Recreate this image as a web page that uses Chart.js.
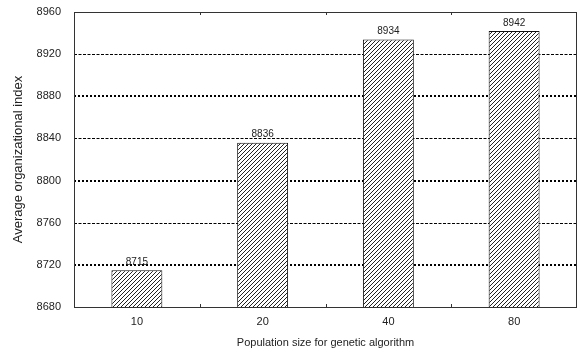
<!DOCTYPE html>
<html>
<head>
<meta charset="utf-8">
<script src="https://cdn.jsdelivr.net/npm/chart.js@4"></script>
<style>
  html, body { margin: 0; padding: 0; background: #fff; }
  #wrap { width: 579px; height: 351px; }
</style>
</head>
<body>
<div id="wrap"><canvas id="c" width="579" height="351"></canvas></div>
<script>
const sizes = ['10', '20', '40', '80']
const avgIndex = [8715, 8836, 8934, 8942]
const yMin = 8680
const yMax = 8960
const yStep = 40

const fnt = 'Liberation Sans, Arial, sans-serif'

// diagonal hatch fill for the bars
const hatch = (() => {
    const t = document.createElement('canvas')
    t.width = 4
    t.height = 4
    const g = t.getContext('2d')
    g.fillStyle = '#fff'
    g.fillRect(0, 0, 4, 4)
    g.strokeStyle = '#222'
    g.lineWidth = 1
    g.beginPath()
    g.moveTo(-1, 5); g.lineTo(5, -1)
    g.moveTo(-1, 1); g.lineTo(1, -1)
    g.moveTo(3, 5); g.lineTo(5, 3)
    g.stroke()
    return g.createPattern(t, 'repeat')
})()

// dashed y grid, alternating thin dashes and thick dots
const gridLines = {
    id: 'gridLines',
    beforeDatasetsDraw(chart) {
        const {ctx, chartArea: a, scales: {y}} = chart
        ctx.save()
        y.ticks.forEach(t => {
            if (t.value <= yMin || t.value >= yMax) return
            const py = Math.round(y.getPixelForValue(t.value))
            const thick = ((t.value - yMin) / yStep) % 2 == 1
            ctx.lineWidth = thick ? 2 : 1
            ctx.setLineDash(thick ? [2, 2] : [3, 1.5])
            ctx.strokeStyle = '#000'
            ctx.beginPath()
            ctx.moveTo(a.left, thick ? py : py + 0.5)
            ctx.lineTo(a.right, thick ? py : py + 0.5)
            ctx.stroke()
        })
        ctx.restore()
    },
    afterDatasetsDraw(chart) {
        const {ctx, chartArea: a, scales: {x}} = chart
        ctx.save()
        ctx.strokeStyle = '#333'
        ctx.lineWidth = 1
        ctx.setLineDash([])
        ctx.strokeRect(Math.round(a.left) + 0.5, Math.round(a.top) + 0.5, Math.round(a.right - a.left) - 1, Math.round(a.bottom - a.top))
        // little ticks between categories
        for (let i = 1; i < sizes.length; i++) {
            const px = Math.round((x.getPixelForValue(i - 1) + x.getPixelForValue(i)) / 2) + 0.5
            ctx.beginPath()
            ctx.moveTo(px, a.top); ctx.lineTo(px, a.top + 3)
            ctx.moveTo(px, a.bottom); ctx.lineTo(px, a.bottom - 3)
            ctx.stroke()
        }
        // value labels above bars
        ctx.fillStyle = '#222'
        ctx.font = '10px ' + fnt
        ctx.textAlign = 'center'
        ctx.textBaseline = 'bottom'
        chart.getDatasetMeta(0).data.forEach((b, i) => {
            ctx.fillText(avgIndex[i], b.x, b.y - 3)
        })
        ctx.restore()
    }
}

new Chart(document.getElementById('c'), {
    type: 'bar',
    data: {
        labels: sizes,
        datasets: [{
            data: avgIndex,
            backgroundColor: hatch,
            borderColor: '#111',
            borderWidth: 1,
            borderSkipped: 'bottom',
            categoryPercentage: 1,
            barPercentage: 0.405,
        }]
    },
    options: {
        responsive: false,
        animation: false,
        layout: { padding: { top: 12, right: 2, left: 0, bottom: 0 } },
        plugins: {
            legend: { display: false },
            tooltip: { enabled: false },
        },
        scales: {
            x: {
                grid: { display: false, drawTicks: false },
                border: { display: false },
                ticks: { color: '#222', font: { family: fnt, size: 11 }, padding: 8 },
                title: {
                    display: true,
                    text: 'Population size for genetic algorithm',
                    color: '#222',
                    font: { family: fnt, size: 11 },
                    padding: { top: 0, bottom: 1 },
                },
                afterFit: s => { s.height = 44; s.paddingLeft = 0; s.paddingRight = 0 },
            },
            y: {
                min: yMin,
                max: yMax,
                grid: { display: false, drawTicks: false },
                border: { display: false },
                ticks: { stepSize: yStep, color: '#222', font: { family: fnt, size: 11 }, padding: 13, callback: v => v },
                title: {
                    display: true,
                    text: 'Average organizational index',
                    color: '#222',
                    font: { family: fnt, size: 13 },
                    padding: { top: 11, bottom: 0 },
                },
                afterFit: s => { s.width = 74; s.paddingTop = 0; s.paddingBottom = 0 },
            }
        }
    },
    plugins: [gridLines]
})
</script>
</body>
</html>
